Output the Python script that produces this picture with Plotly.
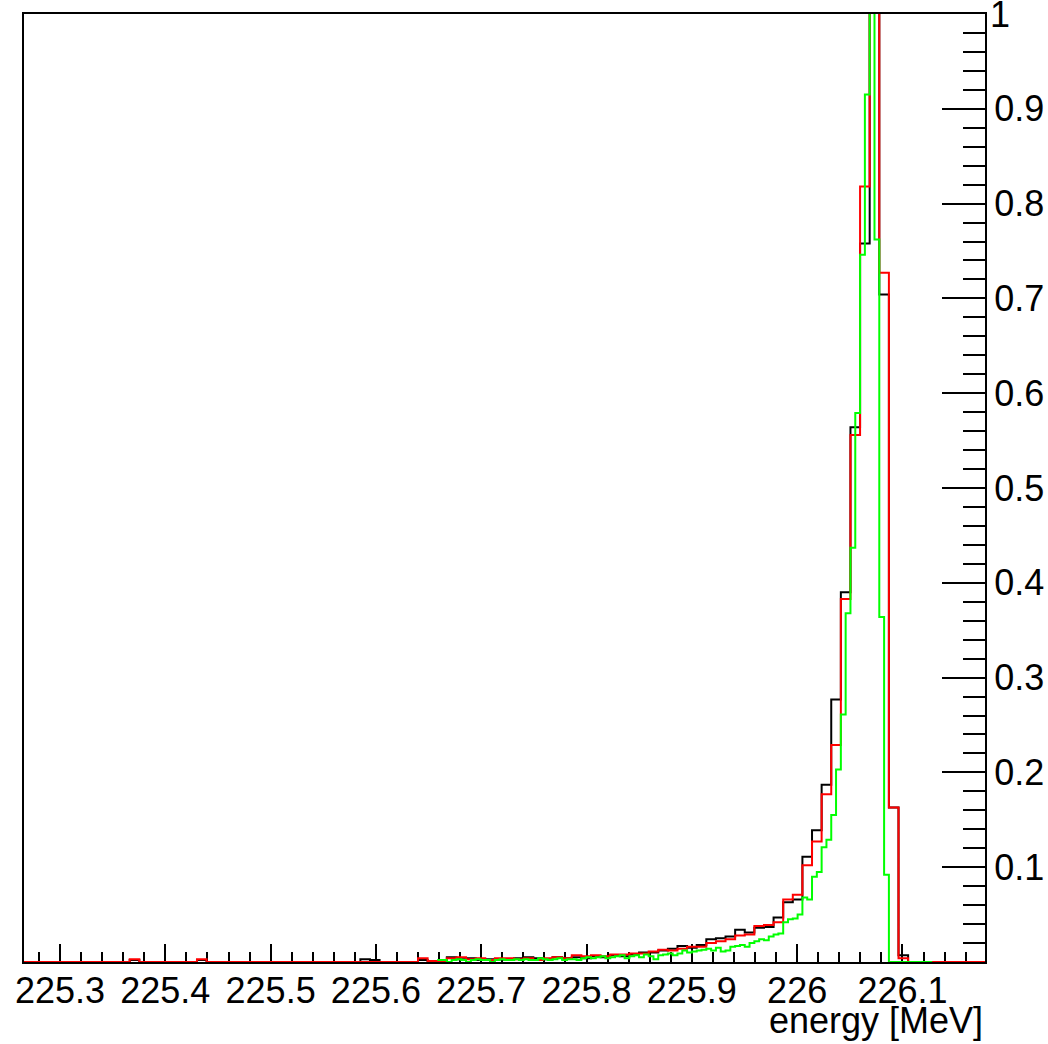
import numpy as np
import plotly.graph_objects as go

# Energy axis range shared by all histograms (MeV)
x_lo, x_hi = 225.2658, 226.1784
n_bins_coarse = 100          # black and red histograms
n_bins_fine = 200            # green histogram uses half-width bins
green_first_bin = 86         # green histogram starts at this fine bin

black_vals = [
    0, 0, 0, 0, 0, 0, 0, 0, 0, 0,
    0, 0.002, 0, 0, 0, 0, 0, 0, 0.002, 0,
    0, 0, 0, 0, 0, 0, 0, 0, 0, 0,
    0, 0, 0, 0, 0, 0.003, 0.002, 0, 0, 0,
    0, 0.002, 0, 0.001, 0.005, 0.003, 0.004, 0.002, 0.003, 0.003,
    0.002, 0.004, 0.005, 0.004, 0.003, 0.005, 0.004, 0.005, 0.004, 0.006,
    0.005, 0.007, 0.006, 0.008, 0.010, 0.010, 0.012, 0.014, 0.017, 0.015,
    0.018, 0.024, 0.025, 0.027, 0.034, 0.031, 0.036, 0.037, 0.047, 0.063,
    0.066, 0.111, 0.139, 0.187, 0.277, 0.390, 0.564, 0.758, 1.45, 0.704,
    0.163, 0.007, 0, 0, 0, 0, 0, 0, 0, 0,
]

red_vals = [
    0, 0, 0, 0, 0, 0, 0, 0, 0, 0,
    0, 0.003, 0, 0, 0, 0, 0, 0, 0.003, 0,
    0, 0, 0, 0, 0, 0, 0, 0, 0, 0,
    0, 0, 0, 0, 0, 0, 0, 0, 0, 0,
    0, 0.004, 0.001, 0, 0.004, 0.005, 0.003, 0.004, 0.002, 0.004,
    0.004, 0.003, 0.004, 0.002, 0.004, 0.005, 0.004, 0.007, 0.006, 0.007,
    0.006, 0.008, 0.008, 0.009, 0.009, 0.011, 0.013, 0.012, 0.014, 0.016,
    0.016, 0.020, 0.022, 0.024, 0.028, 0.029, 0.038, 0.039, 0.042, 0.066,
    0.071, 0.102, 0.127, 0.177, 0.229, 0.383, 0.556, 0.818, 1.40, 0.727,
    0.163, 0.004, 0, 0, 0, 0, 0, 0, 0, 0,
]

green_vals = [
    0.002, 0.002, 0, 0.002, 0.003, 0.002, 0, 0.002, 0.003, 0.002,
    0.002, 0, 0.002, 0.003, 0.002, 0.002, 0.003, 0.002, 0.003, 0.002,
    0.002, 0.004, 0.003, 0.002, 0.003, 0.004, 0.002, 0.003, 0.003, 0.002,
    0.004, 0.005, 0.004, 0.005, 0.006, 0.004, 0.005, 0.006, 0.007, 0.004,
    0.006, 0.007, 0.005, 0.008, 0.006, 0.003, 0.007, 0.008, 0.009, 0.007,
    0.009, 0.012, 0.010, 0.011, 0.012, 0.013, 0.014, 0.012, 0.015, 0.011,
    0.012, 0.016, 0.017, 0.018, 0.016, 0.020, 0.022, 0.024, 0.023, 0.027,
    0.029, 0.030, 0.042, 0.045, 0.046, 0.050, 0.068, 0.066, 0.090, 0.095,
    0.121, 0.129, 0.155, 0.203, 0.261, 0.368, 0.437, 0.579, 0.746, 0.915,
    1.60, 0.762, 0.364, 0.092, 0, 0, 0, 0, 0, 0,
    0, 0, 0,
]

x_tick_vals = [225.3, 225.4, 225.5, 225.6, 225.7, 225.8, 225.9, 226.0, 226.1]
x_tick_text = ["225.3", "225.4", "225.5", "225.6", "225.7", "225.8", "225.9", "226", "226.1"]
y_tick_vals = [0.1, 0.2, 0.3, 0.4, 0.5, 0.6, 0.7, 0.8, 0.9, 1.0]
y_tick_text = ["0.1", "0.2", "0.3", "0.4", "0.5", "0.6", "0.7", "0.8", "0.9", ""]
y_top_label = "1"
x_title = "energy [MeV]"


def step_outline(edges, vals):
    """Histogram outline for an 'hv' step line: one point per lower edge plus the last edge."""
    xs = list(edges)
    ys = list(vals) + [vals[-1]]
    return xs, ys


coarse_edges = np.linspace(x_lo, x_hi, n_bins_coarse + 1)
fine_width = (x_hi - x_lo) / n_bins_fine
green_edges = x_lo + fine_width * (green_first_bin + np.arange(len(green_vals) + 1))

FONT = "Liberation Sans, Arial, Helvetica, sans-serif"
FSIZE = 36

fig = go.Figure()
for edges, vals, color in [
    (coarse_edges, black_vals, "#000000"),
    (coarse_edges, red_vals, "#ff0000"),
    (green_edges, green_vals, "#00ff00"),
]:
    xs, ys = step_outline(edges, vals)
    fig.add_trace(go.Scatter(
        x=xs, y=ys, mode="lines",
        line=dict(color=color, width=2, shape="hv"),
        hoverinfo="skip", showlegend=False,
    ))

fig.update_layout(
    width=1048, height=1044, autosize=False,
    margin=dict(l=24, r=63, t=14, b=82, pad=0),
    paper_bgcolor="white", plot_bgcolor="white",
    font=dict(family=FONT, size=FSIZE, color="black"),
    showlegend=False,
)

fig.update_xaxes(
    range=[x_lo, x_hi], automargin=False,
    tickmode="array", tickvals=x_tick_vals, ticktext=x_tick_text,
    ticks="inside", ticklen=18, tickwidth=2, tickcolor="black",
    ticklabelstandoff=-4,
    minor=dict(tick0=225.3, dtick=0.02, ticks="inside", ticklen=10,
               tickwidth=2, tickcolor="black", showgrid=False),
    showline=True, linecolor="black", linewidth=2, mirror=True,
    showgrid=False, zeroline=False, layer="below traces",
    tickfont=dict(family=FONT, size=FSIZE, color="black"),
)

fig.update_yaxes(
    range=[0, 1], side="right", automargin=False,
    tickmode="array", tickvals=y_tick_vals, ticktext=y_tick_text,
    ticks="inside", ticklen=43, tickwidth=2, tickcolor="black",
    minor=dict(tick0=0, dtick=0.02, ticks="inside", ticklen=22,
               tickwidth=2, tickcolor="black", showgrid=False),
    showline=True, linecolor="black", linewidth=2, mirror=True,
    showgrid=False, zeroline=False, layer="below traces",
    tickfont=dict(family=FONT, size=FSIZE, color="black"),
)

# Top tick label of the right axis sits on the frame edge
fig.add_annotation(
    text=y_top_label, xref="paper", yref="paper",
    x=1.0, y=1.0, xanchor="left", yanchor="middle", xshift=3,
    showarrow=False, font=dict(family=FONT, size=FSIZE, color="black"),
)

fig.add_annotation(
    text=x_title, xref="paper", yref="paper",
    x=1.0, y=-0.0615, xanchor="right", yanchor="middle",
    showarrow=False, font=dict(family=FONT, size=FSIZE, color="black"),
)

fig.write_html("out.html")
